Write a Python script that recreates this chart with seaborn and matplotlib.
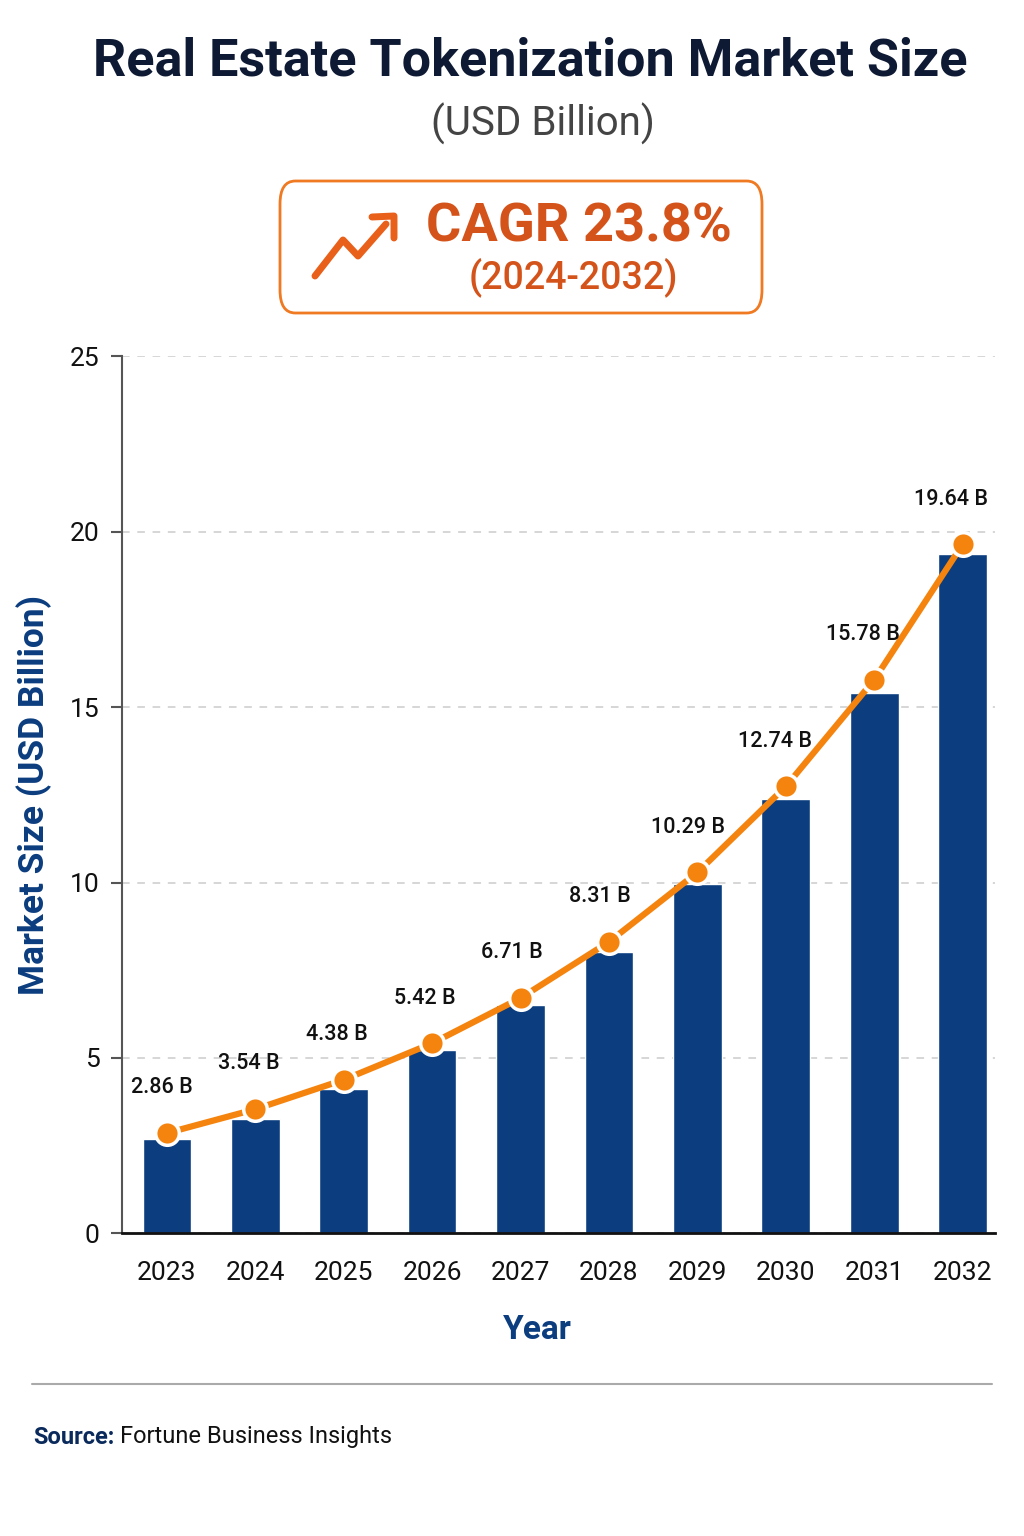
import numpy as np
import pandas as pd
import seaborn as sns
import matplotlib.pyplot as plt
from matplotlib.patches import FancyBboxPatch
from matplotlib.lines import Line2D

# %% Data

lst_years = ['2023', '2024', '2025', '2026', '2027',
             '2028', '2029', '2030', '2031', '2032']
# bar heights
lst_bars = [2.68, 3.25, 4.12, 5.22, 6.50, 8.03, 9.97, 12.38, 15.41, 19.38]
# line values (as labelled)
lst_line = [2.86, 3.54, 4.38, 5.42, 6.71, 8.31, 10.29, 12.74, 15.78, 19.64]
lst_labels = ['2.86 B', '3.54 B', '4.38 B', '5.42 B', '6.71 B',
              '8.31 B', '10.29 B', '12.74 B', '15.78 B', '19.64 B']
lst_yticks = [0, 5, 10, 15, 20, 25]

# %% Style

col_navy = '#0B3D7F'
col_title = '#0E1A33'
col_orange = '#F5840F'
col_cagr = '#D4531A'
col_box = '#F07A22'

sns.set_theme(style='white')
plt.rcParams['font.family'] = ['Roboto', 'DejaVu Sans']

df = pd.DataFrame({'year': lst_years, 'bar': lst_bars, 'line': lst_line})

fig = plt.figure(figsize=(10.24, 15.36), dpi=100)
ax = fig.add_axes([0.119, 0.197, 0.853, 0.571])

# bars
sns.barplot(data=df, x='year', y='bar', color=col_navy, width=0.55,
            saturation=1, ax=ax, zorder=2)

# line with markers
sns.lineplot(x=np.arange(len(lst_years)), y=df['line'], color=col_orange,
             linewidth=4.5, marker='o', markersize=17, markerfacecolor=col_orange,
             markeredgecolor='white', markeredgewidth=2.5, ax=ax, zorder=4)

for ind, (val, txt) in enumerate(zip(lst_line, lst_labels)):
    ax.annotate(txt, (ind, val), xytext=(-4 - 0.5 * ind, 25),
                textcoords='offset points', ha='center', va='bottom',
                fontsize=15.5, fontweight='medium', color='#111111', zorder=5)

# axes
ax.set_xlim(-0.51, 9.37)
ax.set_ylim(0, 25)
ax.set_yticks(lst_yticks)
ax.set_yticklabels([str(v) for v in lst_yticks])
ax.grid(axis='y', linestyle=(0, (5, 5)), color='#CCCCCC', linewidth=1.1, zorder=0)
ax.set_axisbelow(True)
for side in ['top', 'right']:
    ax.spines[side].set_visible(False)
ax.spines['left'].set_color('#555555')
ax.spines['left'].set_linewidth(1.5)
ax.spines['bottom'].set_color('#111111')
ax.spines['bottom'].set_linewidth(2)
ax.tick_params(axis='y', length=8, width=1.5, color='#555555', labelsize=19,
               labelcolor='#111111', pad=8, left=True)
ax.tick_params(axis='x', length=0, labelsize=19, labelcolor='#111111', pad=20)

ax.set_xlabel('Year', fontsize=24, fontweight='bold', color=col_navy)
ax.xaxis.set_label_coords((537 - 122) / 873, -0.092)
ax.set_ylabel('Market Size (USD Billion)', fontsize=25.5, fontweight='bold',
              color=col_navy)
ax.yaxis.set_label_coords(-(122 - 52) / 873, 0.5)

# titles
fig.text(0.518, 1 - 62 / 1536, 'Real Estate Tokenization Market Size', ha='center',
         va='center', fontsize=37.5, fontweight='bold', color=col_title)
fig.text(543 / 1024, 1 - 124 / 1536, '(USD Billion)', ha='center', va='center',
         fontsize=29, color='#444444')

# CAGR box
box = FancyBboxPatch((280 / 1024, 1 - 313 / 1536), 482 / 1024, 132 / 1536,
                     boxstyle='round,pad=0,rounding_size=0.015',
                     transform=fig.transFigure, facecolor='white',
                     edgecolor=col_box, linewidth=2)
fig.patches.append(box)
fig.text(579 / 1024, 1 - 227 / 1536, 'CAGR 23.8%', ha='center', va='center',
         fontsize=39, fontweight='bold', color=col_cagr)
fig.text(573 / 1024, 1 - 277 / 1536, '(2024-2032)', ha='center', va='center',
         fontsize=27, fontweight='medium', color=col_cagr)

# arrow icon
px = np.array([315, 343, 358, 386]) / 1024
py = 1 - np.array([276, 240, 256, 224]) / 1536
fig.lines.append(Line2D(px, py, transform=fig.transFigure, color='#E8601A',
                        linewidth=5, solid_capstyle='round',
                        solid_joinstyle='round'))
hx = np.array([372, 394, 394]) / 1024
hy = 1 - np.array([217, 216, 238]) / 1536
fig.lines.append(Line2D(hx, hy, transform=fig.transFigure, color='#E8601A',
                        linewidth=5, solid_capstyle='round',
                        solid_joinstyle='round'))

# footer
fig.lines.append(Line2D([32 / 1024, 992 / 1024], [1 - 1384 / 1536] * 2,
                        transform=fig.transFigure, color='#AAAAAA', linewidth=1.5))
t = fig.text(33 / 1024, 1 - 1437 / 1536, 'Source:', ha='left', va='center',
             fontsize=17, fontweight='bold', color='#0B2A5C')
fig.canvas.draw()
bb = t.get_window_extent()
fig.text((bb.x1 + 6) / 1024, 1 - 1437 / 1536, 'Fortune Business Insights',
         ha='left', va='center', fontsize=17, color='#111111')

fig.savefig('out.png', dpi=100, facecolor='white')
